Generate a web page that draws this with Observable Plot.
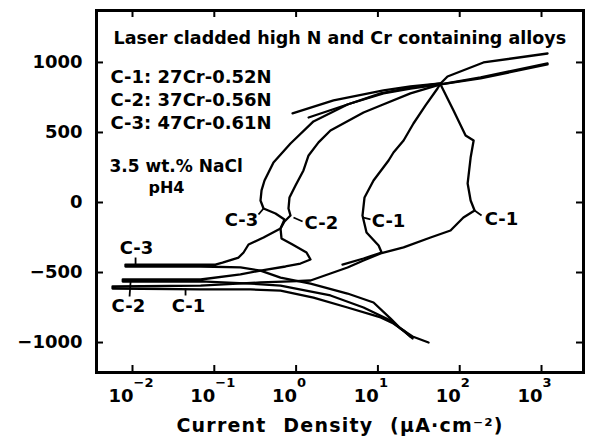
<!DOCTYPE html>
<html><head><meta charset="utf-8">
<script src="https://cdn.jsdelivr.net/npm/d3@7"></script>
<script src="https://cdn.jsdelivr.net/npm/@observablehq/plot@0.6"></script>
<style>body{margin:0;background:#fff} #chart svg{display:block}</style>
</head><body><div id="chart"></div>
<script>
const title = "Laser cladded high N and Cr containing alloys";
const alloys = ["C-1: 27Cr-0.52N", "C-2: 37Cr-0.56N", "C-3: 47Cr-0.61N"];
const conditions = ["3.5 wt.% NaCl", "pH4"];
const xLabel = "Current Density (\u03BCA\u00B7cm\u207B\u00B2)";
const xTickExponents = [-2, -1, 0, 1, 2, 3];
const yTicks = [-1000, -500, 0, 500, 1000];

// [current density (uA/cm2), potential (mV)]
const c1Forward = [[25.0,-957],[20.6,-914],[15.5,-864],[10.8,-821],[4.25,-750],[1.63,-679],[0.645,-629],[0.277,-621],[0.068,-621],[0.0057,-614],[0.0057,-600],[0.068,-593],[0.367,-571],[0.854,-564],[1.50,-557],[2.63,-507],[4.25,-464],[6.67,-414],[10.8,-364],[20.6,-321],[44.0,-250],[77.2,-200],[111,-107],[152,-57],[136,14],[125,136],[136,321],[148,443],[118,479],[84,657],[58.3,843],[180,886],[1184,986]];
const c1Reverse = [[58.3,850],[53.5,814],[38.2,693],[27.2,564],[20.6,443],[15.5,357],[13.5,300],[8.84,157],[6.86,36],[6.48,-93],[7.26,-214],[10.2,-307],[11.1,-357],[6.67,-400],[3.69,-443]];
const c2Forward = [[26.5,-971],[21.8,-929],[14.3,-843],[6.67,-750],[2.63,-664],[0.645,-593],[0.277,-579],[0.068,-564],[0.0076,-564],[0.0076,-550],[0.068,-550],[0.209,-514],[0.367,-486],[0.742,-457],[1.13,-436],[1.50,-407],[1.34,-357],[0.904,-300],[0.663,-257],[0.645,-186],[0.721,-136],[0.854,-93],[0.807,-43],[0.830,36],[0.983,121],[1.23,229],[1.42,336],[1.88,429],[2.63,514],[6.67,643],[10.8,693],[25.0,779],[58.3,843],[180,893],[1184,993]];
const c2Reverse = [[58.3,843],[25.0,814],[11.7,779],[4.62,707],[1.42,607]];
const c3Forward = [[41.6,-1000],[26.5,-957],[18.9,-900],[14.3,-829],[8.84,-714],[4.25,-650],[1.50,-579],[0.645,-536],[0.367,-486],[0.209,-464],[0.068,-457],[0.0082,-457],[0.0082,-443],[0.068,-443],[0.103,-443],[0.126,-429],[0.198,-393],[0.228,-357],[0.262,-300],[0.400,-250],[0.645,-186],[0.721,-121],[0.560,-79],[0.400,-43],[0.367,14],[0.378,86],[0.411,157],[0.529,286],[0.854,421],[1.63,579],[4.25,700],[10.8,779],[25.0,821],[58.3,850],[70.9,900],[195,1000],[1184,1064]];
const c3Reverse = [[58.3,850],[25.0,829],[11.7,800],[2.87,729],[0.904,636]];

const curveLabels = [
  {text: "C-3", i: 0.215, E: -129},
  {text: "C-2", i: 2.04, E: -150},
  {text: "C-1", i: 13.5, E: -136},
  {text: "C-1", i: 324, E: -121},
  {text: "C-3", i: 0.0112, E: -329},
  {text: "C-2", i: 0.0089, E: -743},
  {text: "C-1", i: 0.0484, E: -743}
];
const labelLeaders = [
  {i1: 0.347, E1: -86, i2: 0.400, E2: -43},
  {i1: 0.929, E1: -107, i2: 1.20, E2: -136},
  {i1: 6.48, E1: -107, i2: 8.12, E2: -121},
  {i1: 152, E1: -57, i2: 185, E2: -93},
  {i1: 0.0109, E1: -393, i2: 0.0109, E2: -450},
  {i1: 0.0095, E1: -557, i2: 0.0092, E2: -671},
  {i1: 0.0445, E1: -614, i2: 0.0445, E2: -664}
];

const series = {
  "C-1 forward": c1Forward, "C-1 reverse": c1Reverse,
  "C-2 forward": c2Forward, "C-2 reverse": c2Reverse,
  "C-3 forward": c3Forward, "C-3 reverse": c3Reverse
};
const rows = Object.entries(series).flatMap(([name, pts]) => pts.map(([i, E]) => ({name, i, E})));
const xTicks = xTickExponents.map(e => Math.pow(10, e));

const W = 591, H = 438, mL = 96, mR = 8, mT = 10, mB = 66;
const innerW = W - mL - mR, innerH = H - mT - mB, tl = 7;
const font = "DejaVu Sans";

// in-frame text blocks: [text, left px, baseline px, font size]
const notes = [
  [title, 113, 43, 17.5],
  [alloys[0], 110, 82, 18],
  [alloys[1], 110, 105, 18],
  [alloys[2], 110, 128, 18],
  [conditions[0], 109, 171, 17],
  [conditions[1], 148, 192, 16]
];

const chart = Plot.plot({
  width: W, height: H,
  marginLeft: mL, marginRight: mR, marginTop: mT, marginBottom: mB,
  style: {fontFamily: font, background: "#fff", color: "#000"},
  x: {type: "log", domain: [0.00363, 3260], axis: null},
  y: {domain: [-1214, 1371], axis: null},
  marks: [
    Plot.line(rows, {x: "i", y: "E", z: "name", stroke: "#000", strokeWidth: 2.3, strokeLinejoin: "round", strokeLinecap: "round"}),
    Plot.link(labelLeaders, {x1: "i1", y1: "E1", x2: "i2", y2: "E2", stroke: "#000", strokeWidth: 1.8}),
    Plot.text(curveLabels, {x: "i", y: "E", text: "text", fontSize: 18, fontWeight: "bold", textAnchor: "middle", lineAnchor: "middle"}),
    Plot.frame({stroke: "#000", strokeWidth: 3}),
    Plot.tickX(xTicks, {x: d => d, insetTop: innerH - tl, stroke: "#000", strokeWidth: 2}),
    Plot.tickX(xTicks, {x: d => d, insetBottom: innerH - tl, stroke: "#000", strokeWidth: 2}),
    Plot.tickY(yTicks, {y: d => d, insetRight: innerW - tl, stroke: "#000", strokeWidth: 2}),
    Plot.tickY(yTicks, {y: d => d, insetLeft: innerW - tl, stroke: "#000", strokeWidth: 2}),
    Plot.text(yTicks, {y: d => d, frameAnchor: "left", dx: -14, textAnchor: "end", lineAnchor: "middle", text: d => d3.format("d")(d), fontSize: 18, fontWeight: "bold"}),
    Plot.text(xTicks, {x: d => d, frameAnchor: "bottom", dy: 24, dx: 1, textAnchor: "end", lineAnchor: "middle", text: () => "10", fontSize: 18, fontWeight: "bold"}),
    Plot.text(xTickExponents, {x: d => Math.pow(10, d), frameAnchor: "bottom", dy: 10, dx: 1, textAnchor: "start", lineAnchor: "middle", text: d => d3.format("d")(d), fontSize: 13, fontWeight: "bold"}),
    Plot.text([xLabel], {frameAnchor: "bottom", dy: 53, textAnchor: "middle", lineAnchor: "middle", text: d => d, fontSize: 19, fontWeight: "bold"}),
    ...notes.map(([t, x, y, s]) => Plot.text([t], {frameAnchor: "top-left", dx: x - mL, dy: y - mT, textAnchor: "start", lineAnchor: "bottom", text: d => d, fontSize: s, fontWeight: "bold"}))
  ]
});
d3.select(chart).selectAll("text").filter(function () { return this.textContent === xLabel; })
  .attr("letter-spacing", "1.2px").attr("word-spacing", "9px");
document.getElementById("chart").appendChild(chart);
</script>
</body></html>
